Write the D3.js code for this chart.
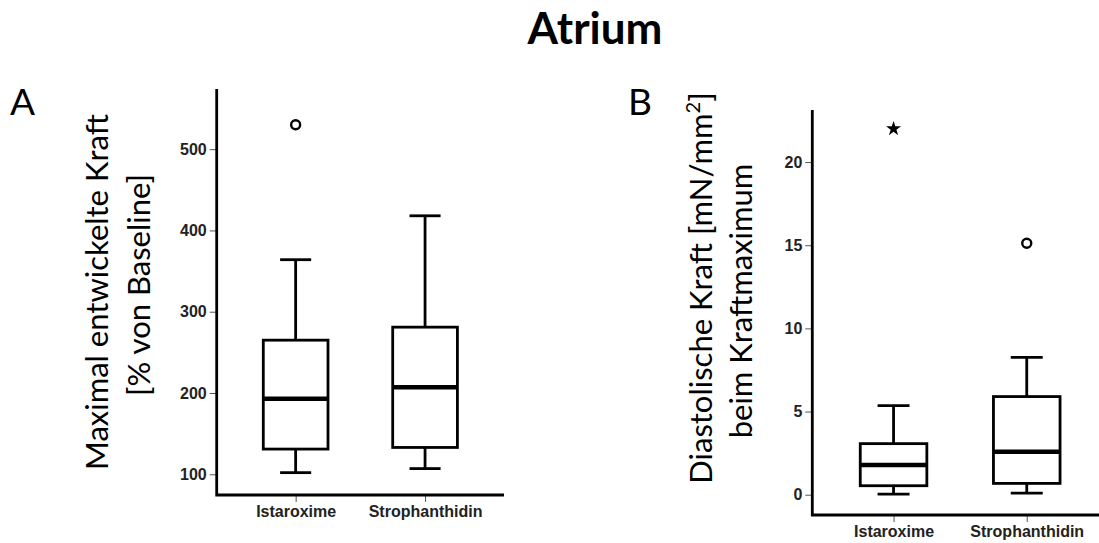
<!DOCTYPE html>
<html>
<head>
<meta charset="utf-8">
<script src="https://cdn.jsdelivr.net/npm/d3@7"></script>
<style>
  body { margin: 0; background: #fff; }
  svg { display: block; }
</style>
</head>
<body>
<div id="chart"></div>
<script>
const categories = ["Istaroxime", "Strophanthidin"];

// Panel A: Maximal entwickelte Kraft [% von Baseline]
const aLow = [102, 107];
const aQ1 = [131, 133];
const aMedian = [193, 207];
const aQ3 = [265, 281];
const aHigh = [364, 418];
const aOutliers = [{cat: "Istaroxime", value: 530, kind: "circle"}];
const aTicks = [100, 200, 300, 400, 500];

// Panel B: Diastolische Kraft beim Kraftmaximum
const bLow = [0.04, 0.1];
const bQ1 = [0.54, 0.68];
const bMedian = [1.78, 2.58];
const bQ3 = [3.07, 5.9];
const bHigh = [5.36, 8.26];
const bOutliers = [
    {cat: "Istaroxime", value: 22.0, kind: "star"},
    {cat: "Strophanthidin", value: 15.12, kind: "circle"}
];
const bTicks = [0, 5, 10, 15, 20];

const W = 1099, H = 543;

const svg = d3.select("#chart")
    .append("svg")
    .attr("width", W)
    .attr("height", H);

// title
svg.append("text")
    .attr("x", 595)
    .attr("y", 44)
    .attr("text-anchor", "middle")
    .style("font-family", "Lato")
    .style("font-weight", "bold")
    .style("font-size", "44px")
    .text("Atrium");

function DrawPanel(p) {
    const g = svg.append("g");

    const x = d3.scalePoint()
        .domain(categories)
        .range([p.left, p.right])
        .padding(0.61);

    const y = d3.scaleLinear()
        .domain(p.domain)
        .range([p.bottom, p.top]);

    const step = x.step();
    const boxHalf = step * 0.25;
    const capHalf = step * 0.12;
    const sw = 2.8;

    // y axis
    const yAxis = g.append("g")
        .attr("transform", `translate(${p.left},0)`)
        .call(d3.axisLeft(y).tickValues(p.ticks).tickSize(7).tickPadding(3).tickSizeOuter(0));
    yAxis.select(".domain").remove();
    yAxis.selectAll(".tick line").attr("stroke", "#555").attr("stroke-width", 1);
    yAxis.selectAll(".tick text")
        .style("font-family", "Liberation Sans")
        .style("font-weight", "bold")
        .style("font-size", "16px")
        .attr("fill", "#222");

    // x axis
    const xAxis = g.append("g")
        .attr("transform", `translate(0,${p.bottom})`)
        .call(d3.axisBottom(x).tickSize(7).tickPadding(4).tickSizeOuter(0));
    xAxis.select(".domain").remove();
    xAxis.selectAll(".tick line").attr("stroke", "#555").attr("stroke-width", 1);
    xAxis.selectAll(".tick text")
        .style("font-family", "Liberation Sans")
        .style("font-weight", "bold")
        .style("font-size", "16px")
        .attr("fill", "#222");

    // axis lines (L shape)
    g.append("path")
        .attr("d", `M${p.left},${p.top}V${p.bottom}H${p.right}`)
        .attr("fill", "none")
        .attr("stroke", "#000")
        .attr("stroke-width", sw);

    const rows = categories.map((c, i) => ({
        cat: c, low: p.low[i], q1: p.q1[i], med: p.median[i], q3: p.q3[i], high: p.high[i]
    }));

    const box = g.append("g").selectAll("g").data(rows).enter().append("g");

    // whiskers
    box.append("line")
        .attr("x1", d => x(d.cat)).attr("x2", d => x(d.cat))
        .attr("y1", d => y(d.q3)).attr("y2", d => y(d.high))
        .attr("stroke", "#000").attr("stroke-width", sw);
    box.append("line")
        .attr("x1", d => x(d.cat)).attr("x2", d => x(d.cat))
        .attr("y1", d => y(d.q1)).attr("y2", d => y(d.low))
        .attr("stroke", "#000").attr("stroke-width", sw);
    box.append("line")
        .attr("x1", d => x(d.cat) - capHalf).attr("x2", d => x(d.cat) + capHalf)
        .attr("y1", d => y(d.high)).attr("y2", d => y(d.high))
        .attr("stroke", "#000").attr("stroke-width", sw);
    box.append("line")
        .attr("x1", d => x(d.cat) - capHalf).attr("x2", d => x(d.cat) + capHalf)
        .attr("y1", d => y(d.low)).attr("y2", d => y(d.low))
        .attr("stroke", "#000").attr("stroke-width", sw);

    // box
    box.append("rect")
        .attr("x", d => x(d.cat) - boxHalf)
        .attr("width", boxHalf * 2)
        .attr("y", d => y(d.q3))
        .attr("height", d => y(d.q1) - y(d.q3))
        .attr("fill", "#fff")
        .attr("stroke", "#000")
        .attr("stroke-width", sw);

    // median
    box.append("line")
        .attr("x1", d => x(d.cat) - boxHalf).attr("x2", d => x(d.cat) + boxHalf)
        .attr("y1", d => y(d.med)).attr("y2", d => y(d.med))
        .attr("stroke", "#000").attr("stroke-width", 4.5);

    // outliers
    g.selectAll(".out-circle")
        .data(p.outliers.filter(d => d.kind === "circle"))
        .enter()
        .append("circle")
        .attr("cx", d => x(d.cat))
        .attr("cy", d => y(d.value))
        .attr("r", 4.5)
        .attr("fill", "none")
        .attr("stroke", "#000")
        .attr("stroke-width", 2.4);

    g.selectAll(".out-star")
        .data(p.outliers.filter(d => d.kind === "star"))
        .enter()
        .append("path")
        .attr("transform", d => `translate(${x(d.cat)},${y(d.value)})`)
        .attr("d", d3.symbol().type(d3.symbolStar).size(70))
        .attr("fill", "#000");

    // panel letter
    svg.append("text")
        .attr("x", p.letterX)
        .attr("y", 115)
        .style("font-family", "Lato")
        .style("font-size", "37px")
        .text(p.letter);

    // y titles
    p.titles.forEach(t => {
        svg.append("text")
            .attr("transform", `translate(${t.x},${t.y}) rotate(-90)`)
            .attr("text-anchor", "middle")
            .style("font-family", "Lato")
            .style("font-size", "31px")
            .html(t.text);
    });
}

DrawPanel({
    left: 216.7, right: 504, top: 89, bottom: 495,
    domain: [74.5, 574],
    ticks: aTicks,
    low: aLow, q1: aQ1, median: aMedian, q3: aQ3, high: aHigh,
    outliers: aOutliers,
    letter: "A", letterX: 10,
    titles: [
        {x: 108, y: 292, text: "Maximal entwickelte Kraft"},
        {x: 150, y: 285, text: "[% von Baseline]"}
    ]
});

DrawPanel({
    left: 812.3, right: 1108, top: 110, bottom: 515,
    domain: [-1.22, 23.13],
    ticks: bTicks,
    low: bLow, q1: bQ1, median: bMedian, q3: bQ3, high: bHigh,
    outliers: bOutliers,
    letter: "B", letterX: 628,
    titles: [
        {x: 712, y: 288, text: "Diastolische Kraft [mN/mm<tspan dy='-12' font-size='20px'>2</tspan><tspan dy='12'>]</tspan>"},
        {x: 752, y: 301, text: "beim Kraftmaximum"}
    ]
});
</script>
</body>
</html>
